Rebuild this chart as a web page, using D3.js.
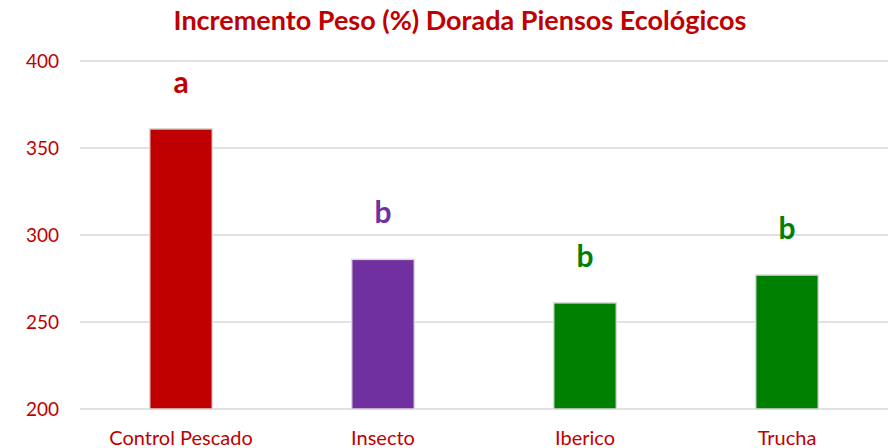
<!DOCTYPE html>
<html>
<head>
<meta charset="utf-8">
<script src="https://cdn.jsdelivr.net/npm/d3@7"></script>
<style>
  body { margin: 0; background: #fff; }
  text { font-family: Lato, "Open Sans", sans-serif; }
</style>
</head>
<body>
<div id="chart"></div>
<script>
// Data
const categories = ["Control Pescado", "Insecto", "Iberico", "Trucha"];
const values = [361, 286, 261, 277];
const letters = ["a", "b", "b", "b"];
const barColors = ["#c00000", "#7030a0", "#008000", "#008000"];
const yTicks = [200, 250, 300, 350, 400];

const width = 890, height = 448;
const margin = { top: 61, right: 2, bottom: 39, left: 80 };

const svg = d3.select("#chart")
    .append("svg")
    .attr("width", width)
    .attr("height", height);

const x = d3.scaleBand()
    .domain(categories)
    .range([margin.left, width - margin.right])
    .paddingInner(0.69)
    .paddingOuter(0.345);

const y = d3.scaleLinear()
    .domain([200, 400])
    .range([height - margin.bottom, margin.top]);

// Title
svg.append("text")
    .attr("x", 460)
    .attr("y", 30)
    .attr("text-anchor", "middle")
    .attr("fill", "#c00000")
    .attr("font-size", 27)
    .attr("font-weight", "bold")
    .text("Incremento Peso (%) Dorada Piensos Ecológicos");

// Gridlines
svg.append("g")
    .selectAll("line")
    .data(yTicks)
    .enter()
    .append("line")
    .attr("x1", margin.left)
    .attr("x2", width - margin.right)
    .attr("y1", d => y(d))
    .attr("y2", d => y(d))
    .attr("stroke", "#d9d9d9")
    .attr("stroke-width", 1.5);

// Y axis labels
const yAxis = svg.append("g")
    .attr("transform", `translate(${margin.left - 21},0)`)
    .call(d3.axisLeft(y).tickValues(yTicks).tickSize(0).tickPadding(0));
yAxis.select(".domain").remove();
yAxis.selectAll("text")
    .attr("fill", "#c00000")
    .attr("font-size", 19)
    .style("font-family", "Lato, 'Open Sans', sans-serif");

// Bars
svg.append("g")
    .selectAll("rect")
    .data(values)
    .enter()
    .append("rect")
    .attr("x", (d, i) => x(categories[i]))
    .attr("y", d => y(d))
    .attr("width", x.bandwidth())
    .attr("height", d => y(200) - y(d))
    .attr("fill", (d, i) => barColors[i])
    .attr("stroke", "#d9d9d9")
    .attr("stroke-width", 1.5);

// Significance letters
svg.append("g")
    .selectAll("text")
    .data(values)
    .enter()
    .append("text")
    .attr("x", (d, i) => x(categories[i]) + x.bandwidth() / 2)
    .attr("y", d => y(d) - 36)
    .attr("text-anchor", "middle")
    .attr("fill", (d, i) => barColors[i])
    .attr("font-size", 30)
    .attr("font-weight", "bold")
    .text((d, i) => letters[i]);

// X axis labels
const xAxis = svg.append("g")
    .attr("transform", `translate(0,${height - margin.bottom})`)
    .call(d3.axisBottom(x).tickSize(0).tickPadding(0));
xAxis.select(".domain").remove();
xAxis.selectAll("text")
    .attr("dy", null)
    .attr("y", 36)
    .attr("fill", "#c00000")
    .attr("font-size", 20)
    .style("font-family", "Lato, 'Open Sans', sans-serif");
</script>
</body>
</html>
